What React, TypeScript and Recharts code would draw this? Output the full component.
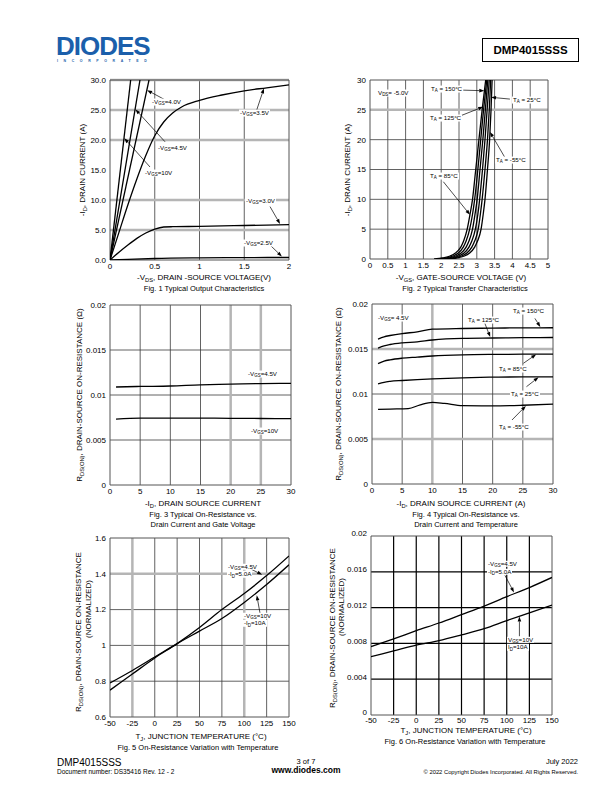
import React from 'react';
import { LineChart, Line, XAxis, YAxis, CartesianGrid, ReferenceLine } from 'recharts';

type Pt = [number, number];

// Fig. 1 typical output characteristics: [-VDS (V), -ID (A)]
const fig1Vgs10: Pt[] = [[0, 0], [0.231, 30]];
const fig1Vgs45: Pt[] = [[0, 0], [0.335, 30]];
const fig1Vgs40: Pt[] = [[0, 0], [0.436, 30]];
const fig1Vgs35: Pt[] = [[0, 0], [0.1, 4.6], [0.2, 9.2], [0.3, 13.5], [0.4, 17.4], [0.5, 20.7], [0.6, 23.0], [0.7, 24.5], [0.8, 25.5], [1.0, 26.6], [1.25, 27.5], [1.5, 28.2], [1.75, 28.7], [2.0, 29.2]];
const fig1Vgs30: Pt[] = [[0, 0], [0.1, 1.3], [0.2, 2.5], [0.3, 3.6], [0.4, 4.5], [0.5, 5.15], [0.6, 5.5], [0.7, 5.55], [1.0, 5.6], [1.5, 5.75], [2.0, 5.9]];
const fig1Vgs25: Pt[] = [[0, 0], [0.2, 0.12], [0.5, 0.25], [1.0, 0.35], [1.5, 0.4], [2.0, 0.42]];

// Fig. 2 transfer characteristics: [-VGS (V), -ID (A)], hot to cold
const fig2T150: Pt[] = [[1.8, 0], [2.05, 0.2], [2.25, 0.5], [2.4, 1], [2.55, 2], [2.63, 3], [2.73, 5], [2.81, 7.5], [2.88, 10], [2.97, 15], [3.06, 20], [3.15, 25], [3.25, 30]];
const fig2T125: Pt[] = [[1.9, 0], [2.14, 0.2], [2.33, 0.5], [2.48, 1], [2.62, 2], [2.7, 3], [2.8, 5], [2.88, 7.5], [2.94, 10], [3.03, 15], [3.11, 20], [3.19, 25], [3.28, 30]];
const fig2T85: Pt[] = [[2.0, 0], [2.22, 0.2], [2.41, 0.5], [2.56, 1], [2.7, 2], [2.78, 3], [2.88, 5], [2.95, 7.5], [3.01, 10], [3.09, 15], [3.17, 20], [3.24, 25], [3.31, 30]];
const fig2T50: Pt[] = [[2.1, 0], [2.3, 0.2], [2.49, 0.5], [2.64, 1], [2.78, 2], [2.86, 3], [2.96, 5], [3.03, 7.5], [3.08, 10], [3.16, 15], [3.23, 20], [3.29, 25], [3.35, 30]];
const fig2T25: Pt[] = [[2.2, 0], [2.38, 0.2], [2.57, 0.5], [2.72, 1], [2.86, 2], [2.94, 3], [3.04, 5], [3.1, 7.5], [3.15, 10], [3.23, 15], [3.3, 20], [3.35, 25], [3.39, 30]];
const fig2Tm55: Pt[] = [[2.3, 0], [2.46, 0.2], [2.65, 0.5], [2.8, 1], [2.94, 2], [3.02, 3], [3.12, 5], [3.18, 7.5], [3.23, 10], [3.3, 15], [3.36, 20], [3.4, 25], [3.43, 30]];

// Fig. 3 on-resistance vs drain current: [-ID (A), RDS(ON) (ohm)]
const fig3Vgs45: Pt[] = [[1, 0.01089], [5, 0.01095], [10, 0.011], [15, 0.01113], [20, 0.0112], [25, 0.01127], [30, 0.0113]];
const fig3Vgs10: Pt[] = [[1, 0.00733], [5, 0.00742], [10, 0.00744], [15, 0.00743], [20, 0.00741], [25, 0.00739], [30, 0.00737]];

// Fig. 4 on-resistance vs drain current and temperature
const fig4T150: Pt[] = [[1, 0.0161], [2, 0.01635], [3, 0.0165], [5, 0.01672], [7.5, 0.0169], [10, 0.0172], [15, 0.01728], [20, 0.01732], [25, 0.01735], [30, 0.01736]];
const fig4T125: Pt[] = [[1, 0.0151], [2, 0.01535], [3, 0.0155], [5, 0.01568], [7.5, 0.0158], [10, 0.016], [15, 0.01618], [20, 0.01622], [25, 0.01626], [30, 0.01628]];
const fig4T85: Pt[] = [[1, 0.01338], [2, 0.01365], [3, 0.0138], [5, 0.01398], [7.5, 0.0141], [10, 0.01422], [15, 0.01435], [20, 0.0144], [25, 0.01442], [30, 0.01442]];
const fig4T25: Pt[] = [[1, 0.01112], [2, 0.0113], [3, 0.0114], [5, 0.0115], [7.5, 0.0116], [10, 0.01168], [15, 0.0118], [20, 0.01187], [25, 0.0119], [30, 0.0119]];
const fig4Tm55: Pt[] = [[1, 0.00829], [3, 0.00833], [6, 0.00838], [8, 0.0088], [10, 0.00907], [12, 0.00895], [15, 0.0087], [20, 0.00868], [25, 0.00875], [30, 0.00888]];

// Fig. 5 normalized on-resistance vs junction temperature
const fig5Vgs45: Pt[] = [[-50, 0.75], [-25, 0.84], [0, 0.93], [25, 1.01], [50, 1.1], [75, 1.2], [100, 1.29], [125, 1.39], [150, 1.5]];
const fig5Vgs10: Pt[] = [[-50, 0.79], [-25, 0.86], [0, 0.935], [25, 1.01], [50, 1.08], [75, 1.15], [100, 1.24], [125, 1.34], [150, 1.45]];

// Fig. 6 on-resistance vs junction temperature
const fig6Vgs45: Pt[] = [[-50, 0.00765], [-25, 0.00851], [0, 0.00942], [25, 0.01028], [50, 0.01122], [75, 0.01217], [100, 0.01322], [125, 0.01424], [150, 0.01537]];
const fig6Vgs10: Pt[] = [[-50, 0.00652], [-25, 0.00716], [0, 0.0078], [25, 0.00832], [50, 0.00896], [75, 0.00964], [100, 0.01055], [125, 0.01141], [150, 0.01228]];

// tick values and labels
const fig1XTicks = [0, 0.5, 1, 1.5, 2];
const fig1XLabels = ['0', '0.5', '1', '1.5', '2'];
const fig1YTicks = [0, 5, 10, 15, 20, 25, 30];
const fig1YLabels = ['0.0', '5.0', '10.0', '15.0', '20.0', '25.0', '30.0'];
const fig2XTicks = [0, 0.5, 1, 1.5, 2, 2.5, 3, 3.5, 4, 4.5, 5];
const fig2XLabels = ['0', '0.5', '1', '1.5', '2', '2.5', '3', '3.5', '4', '4.5', '5'];
const fig2YTicks = [0, 5, 10, 15, 20, 25, 30];
const fig2YLabels = ['0', '5', '10', '15', '20', '25', '30'];
const idTicks = [0, 5, 10, 15, 20, 25, 30];
const idLabels = ['0', '5', '10', '15', '20', '25', '30'];
const rdsTicks = [0, 0.005, 0.01, 0.015, 0.02];
const rdsLabels = ['0', '0.005', '0.01', '0.015', '0.02'];
const tjTicks = [-50, -25, 0, 25, 50, 75, 100, 125, 150];
const tjLabels = ['-50', '-25', '0', '25', '50', '75', '100', '125', '150'];
const fig5YTicks = [0.6, 0.8, 1, 1.2, 1.4, 1.6];
const fig5YLabels = ['0.6', '0.8', '1', '1.2', '1.4', '1.6'];
const fig6YTicks = [0, 0.004, 0.008, 0.012, 0.016, 0.02];
const fig6YLabels = ['0', '0.004', '0.008', '0.012', '0.016', '0.02'];

const FONT = '"Liberation Sans", Arial, sans-serif';
const GRAY = '#b5b5b5';
const DARK = '#3a3a3a';

type Arrow = { from: Pt; to: Pt };

type PanelProps = {
  left: number;
  top: number;
  w: number;
  h: number;
  xDomain: [number, number];
  yDomain: [number, number];
  xTicks: number[];
  xLabels: string[];
  yTicks: number[];
  yLabels: string[];
  series: Pt[][];
  darkX?: number[];
  darkY?: number[];
  grayX?: number[];
  grayY?: number[];
  gridColor?: string;
  arrows?: Arrow[];
  xGap?: number;
  yDy?: number;
};

const toPts = (s: Pt[]) => s.map(([x, y]) => ({ x, y }));

const ArrowShape = (props: any) => {
  const { x1, y1, x2, y2 } = props;
  const a = Math.atan2(y2 - y1, x2 - x1);
  const L = 5;
  const W = 1.8;
  const bx = x2 - L * Math.cos(a);
  const by = y2 - L * Math.sin(a);
  const pts = `${x2},${y2} ${bx + W * Math.sin(a)},${by - W * Math.cos(a)} ${bx - W * Math.sin(a)},${by + W * Math.cos(a)}`;
  return (
    <g>
      <line x1={x1} y1={y1} x2={bx} y2={by} stroke="#000" strokeWidth={0.7} />
      <polygon points={pts} fill="#000" />
    </g>
  );
};

function Panel(p: PanelProps) {
  const gc = p.gridColor || DARK;
  const gap = p.xGap === undefined ? 1 : p.xGap;
  const xTick = { fontSize: 8, fill: '#000', fontFamily: FONT };
  const yTick = { fontSize: 8, fill: '#000', fontFamily: FONT, dy: p.yDy || 0 };
  return (
    <div style={{ position: 'absolute', left: p.left - 40, top: p.top - 10 }}>
      <LineChart width={p.w + 56} height={p.h + 30} margin={{ top: 10, right: 16, bottom: 0, left: 0 }}>
        {p.darkX && p.darkX.length > 0 && (
          <CartesianGrid horizontal={false} verticalValues={p.darkX} stroke={gc} strokeWidth={p.gridColor ? 1.2 : 0.8} />
        )}
        {p.darkY && p.darkY.length > 0 && (
          <CartesianGrid vertical={false} horizontalValues={p.darkY} stroke={gc} strokeWidth={p.gridColor ? 1.2 : 0.8} />
        )}
        {p.grayX && p.grayX.length > 0 && (
          <CartesianGrid horizontal={false} verticalValues={p.grayX} stroke={GRAY} strokeWidth={2.5} />
        )}
        {p.grayY && p.grayY.length > 0 && (
          <CartesianGrid vertical={false} horizontalValues={p.grayY} stroke={GRAY} strokeWidth={2.5} />
        )}
        <CartesianGrid verticalValues={p.xDomain} horizontalValues={p.yDomain} stroke="#555" strokeWidth={1} />
        <XAxis
          type="number"
          dataKey="x"
          domain={p.xDomain}
          ticks={p.xTicks}
          interval={0}
          tickFormatter={(v: number) => p.xLabels[p.xTicks.indexOf(v)]}
          axisLine={false}
          tickLine={false}
          tickSize={2}
          tickMargin={gap}
          tick={xTick}
          height={20}
          allowDataOverflow
        />
        <YAxis
          type="number"
          dataKey="y"
          domain={p.yDomain}
          ticks={p.yTicks}
          interval={0}
          tickFormatter={(v: number) => p.yLabels[p.yTicks.indexOf(v)]}
          axisLine={false}
          tickLine={false}
          tickSize={2}
          tickMargin={2}
          tick={yTick}
          width={40}
          allowDataOverflow
        />
        {p.series.map((s, i) => (
          <Line
            key={i}
            data={toPts(s)}
            dataKey="y"
            type="monotone"
            stroke="#000"
            strokeWidth={1.3}
            dot={false}
            activeDot={false}
            isAnimationActive={false}
          />
        ))}
        {(p.arrows || []).map((a, i) => (
          <ReferenceLine
            key={'a' + i}
            segment={[{ x: a.from[0], y: a.from[1] }, { x: a.to[0], y: a.to[1] }]}
            shape={ArrowShape}
            ifOverflow="visible"
          />
        ))}
      </LineChart>
    </div>
  );
}

const Sub = ({ children }: { children: React.ReactNode }) => (
  <span style={{ fontSize: '0.72em', position: 'relative', top: '0.3em' }}>{children}</span>
);

type TProps = {
  x: number;
  y: number;
  size?: number;
  anchor?: 'start' | 'middle' | 'end';
  bold?: boolean;
  bg?: boolean;
  color?: string;
  spacing?: number;
  lh?: number;
  children: React.ReactNode;
};

const T = ({ x, y, size = 7, anchor = 'start', bold, bg, color, spacing, lh, children }: TProps) => {
  const tx = anchor === 'middle' ? '-50%' : anchor === 'end' ? '-100%' : '0';
  return (
    <div
      style={{
        position: 'absolute',
        left: x,
        top: y,
        transform: `translate(${tx},-50%)`,
        fontSize: size,
        fontWeight: bold ? 'bold' : 'normal',
        whiteSpace: 'nowrap',
        lineHeight: lh || 1.1,
        background: bg ? '#fff' : undefined,
        padding: bg ? '0 1px' : 0,
        color: color || '#000',
        letterSpacing: spacing,
      }}
    >
      {children}
    </div>
  );
};

const VT = ({ x, y, size = 8, children }: { x: number; y: number; size?: number; children: React.ReactNode }) => (
  <div
    style={{
      position: 'absolute',
      left: x,
      top: y,
      transform: 'translate(-50%,-50%) rotate(-90deg)',
      fontSize: size,
      whiteSpace: 'nowrap',
      lineHeight: 1,
    }}
  >
    {children}
  </div>
);

const L = 6.2; // small annotation size

export default function App() {
  return (
    <div style={{ position: 'absolute', left: 0, top: 0, width: 612, height: 792, background: '#fff', fontFamily: FONT, color: '#000' }}>
      {/* header */}
      <T x={56} y={45.5} size={26} bold color="#1b5fab" spacing={-1} lh={0.8}>DIODES</T>
      <T x={57} y={61.5} size={3.5} bold color="#1b5fab" spacing={5.6} lh={1}>INCORPORATED</T>
      <div
        style={{
          position: 'absolute',
          left: 482,
          top: 38,
          width: 95,
          height: 22,
          border: '1px solid #000',
          display: 'flex',
          alignItems: 'center',
          justifyContent: 'center',
          fontSize: 11.5,
          fontWeight: 'bold',
        }}
      >
        DMP4015SSS
      </div>

      {/* Fig. 1 */}
      <Panel
        left={110} top={80} w={179} h={180}
        xDomain={[0, 2]} yDomain={[0, 30]}
        xTicks={fig1XTicks} xLabels={fig1XLabels} yTicks={fig1YTicks} yLabels={fig1YLabels}
        series={[fig1Vgs10, fig1Vgs45, fig1Vgs40, fig1Vgs35, fig1Vgs30, fig1Vgs25]}
        darkX={[0.5, 1, 1.5]} grayY={[5, 10, 20, 25, 30]}
        arrows={[
          { from: [0.615, 26.7], to: [0.415, 28.3] },
          { from: [0.615, 19.7], to: [0.285, 25.1] },
          { from: [0.447, 15.5], to: [0.16, 20.3] },
          { from: [1.639, 25.0], to: [1.72, 28.6] },
          { from: [1.788, 8.9], to: [1.9, 6.0] },
          { from: [1.788, 2.5], to: [1.92, 0.6] },
        ]}
      />
      <T x={151} y={102} size={L} bg>-V<Sub>GS</Sub>=4.0V</T>
      <T x={239} y={112.7} size={L} bg>-V<Sub>GS</Sub>=3.5V</T>
      <T x={157} y={147.7} size={L} bg>-V<Sub>GS</Sub>=4.5V</T>
      <T x={144} y={172.7} size={L} bg>-V<Sub>GS</Sub>=10V</T>
      <T x={245} y={201} size={L} bg>-V<Sub>GS</Sub>=3.0V</T>
      <T x={243} y={242.7} size={L} bg>-V<Sub>GS</Sub>=2.5V</T>
      <VT x={83} y={170}>-I<Sub>D</Sub>, DRAIN CURRENT (A)</VT>
      <T x={204} y={278} size={8} anchor="middle">-V<Sub>DS</Sub>, DRAIN -SOURCE VOLTAGE(V)</T>
      <T x={204} y={289} size={7.5} anchor="middle">Fig. 1 Typical Output Characteristics</T>

      {/* Fig. 2 */}
      <Panel
        left={370} top={80} w={178} h={179}
        xDomain={[0, 5]} yDomain={[0, 30]}
        xTicks={fig2XTicks} xLabels={fig2XLabels} yTicks={fig2YTicks} yLabels={fig2YLabels}
        series={[fig2T150, fig2T125, fig2T85, fig2T50, fig2T25, fig2Tm55]}
        darkX={[0.5, 1, 1.5, 2, 2.5, 3, 3.5, 4, 4.5]} darkY={[5, 10, 15, 20]} grayY={[25]}
        arrows={[
          { from: [2.62, 28.3], to: [3.21, 28.2] },
          { from: [3.93, 26.8], to: [3.4, 27.1] },
          { from: [2.48, 23.85], to: [3.18, 25.5] },
          { from: [3.79, 17.0], to: [3.37, 21.3] },
          { from: [2.06, 12.95], to: [2.81, 7.4] },
        ]}
      />
      <T x={377} y={93} size={L} bg>V<Sub>DS</Sub>= -5.0V</T>
      <T x={430} y={89} size={L} bg>T<Sub>A</Sub> = 150°C</T>
      <T x={512} y={100} size={L} bg>T<Sub>A</Sub> = 25°C</T>
      <T x={429} y={117.7} size={L} bg>T<Sub>A</Sub> = 125°C</T>
      <T x={495} y={160} size={L} bg>T<Sub>A</Sub> = -55°C</T>
      <T x={429} y={176} size={L} bg>T<Sub>A</Sub> = 85°C</T>
      <VT x={348} y={170}>-I<Sub>D</Sub>, DRAIN CURRENT (A)</VT>
      <T x={461} y={278} size={8} anchor="middle">-V<Sub>GS</Sub>, GATE-SOURCE VOLTAGE (V)</T>
      <T x={465} y={289} size={7.5} anchor="middle">Fig. 2 Typical Transfer Characteristics</T>

      {/* Fig. 3 */}
      <Panel
        left={110} top={305} w={181} h={180}
        xDomain={[0, 30]} yDomain={[0, 0.02]}
        xTicks={idTicks} xLabels={idLabels} yTicks={rdsTicks} yLabels={rdsLabels}
        series={[fig3Vgs45, fig3Vgs10]}
        darkX={[5, 10, 15]} grayX={[20, 25]} darkY={[0.005, 0.01, 0.015]}
      />
      <T x={247} y={374} size={L} bg>-V<Sub>GS</Sub>=4.5V</T>
      <T x={250} y={431} size={L} bg>-V<Sub>GS</Sub>=10V</T>
      <VT x={80} y={395}>R<Sub>DS(ON)</Sub>, DRAIN-SOURCE ON-RESISTANCE (Ω)</VT>
      <T x={203} y={504} size={8} anchor="middle">-I<Sub>D</Sub>, DRAIN SOURCE CURRENT</T>
      <T x={203} y={515} size={7.5} anchor="middle">Fig. 3  Typical On-Resistance vs.</T>
      <T x={203} y={525} size={7.5} anchor="middle">Drain Current and Gate Voltage</T>

      {/* Fig. 4 */}
      <Panel
        left={372} top={304} w={181} h={180}
        xDomain={[0, 30]} yDomain={[0, 0.02]}
        xTicks={idTicks} xLabels={idLabels} yTicks={rdsTicks} yLabels={rdsLabels}
        series={[fig4T150, fig4T125, fig4T85, fig4T25, fig4Tm55]}
        darkX={[5, 15, 20, 25]} grayX={[10]} darkY={[0.01]} grayY={[0.005, 0.015]}
        arrows={[
          { from: [27.0, 0.0184], to: [27.9, 0.01745] },
          { from: [18.7, 0.01786], to: [19.6, 0.01632] },
          { from: [25.1, 0.01341], to: [27.2, 0.0144] },
          { from: [25.6, 0.01081], to: [27.6, 0.01185] },
          { from: [23.2, 0.00711], to: [25.5, 0.00868] },
        ]}
      />
      <T x={377} y={318} size={L} bg>-V<Sub>GS</Sub>= 4.5V</T>
      <T x={512} y={311} size={L} bg>T<Sub>A</Sub> = 150°C</T>
      <T x={467} y={320} size={L} bg>T<Sub>A</Sub> = 125°C</T>
      <T x={498} y={369} size={L} bg>T<Sub>A</Sub> = 85°C</T>
      <T x={510} y={394} size={L} bg>T<Sub>A</Sub> = 25°C</T>
      <T x={498} y={427} size={L} bg>T<Sub>A</Sub> = -55°C</T>
      <VT x={339} y={394}>R<Sub>DS(ON)</Sub>, DRAIN-SOURCE ON-RESISTANCE (Ω)</VT>
      <T x={461} y={504} size={8} anchor="middle">-I<Sub>D</Sub>, DRAIN SOURCE CURRENT (A)</T>
      <T x={466} y={515} size={7.5} anchor="middle">Fig. 4  Typical On-Resistance vs.</T>
      <T x={466} y={525} size={7.5} anchor="middle">Drain Current and Temperature</T>

      {/* Fig. 5 */}
      <Panel
        left={110} top={538} w={179} h={179}
        xDomain={[-50, 150]} yDomain={[0.6, 1.6]}
        xTicks={tjTicks} xLabels={tjLabels} yTicks={fig5YTicks} yLabels={fig5YLabels}
        series={[fig5Vgs45, fig5Vgs10]}
        darkX={[0, 25, 50, 75, 125]} grayX={[-25, 100]} darkY={[0.8, 1, 1.2]} grayY={[1.4]}
        arrows={[
          { from: [108, 1.425], to: [120, 1.395] },
          { from: [117.6, 1.18], to: [114, 1.28] },
        ]}
      />
      <T x={227} y={567} size={L} bg lh={1}>-V<Sub>GS</Sub>=4.5V</T>
      <T x={227} y={574.2} size={L} bg lh={1}>-I<Sub>D</Sub>=5.0A</T>
      <T x={243} y={616} size={L} bg lh={1}>-V<Sub>GS</Sub>=10V</T>
      <T x={243} y={623.2} size={L} bg lh={1}>-I<Sub>D</Sub>=10A</T>
      <VT x={79} y={632}>R<Sub>DS(ON)</Sub>, DRAIN-SOURCE ON-RESISTANCE</VT>
      <VT x={88.5} y={609}>(NORMALIZED)</VT>
      <T x={201} y={737} size={8} anchor="middle">T<Sub>J</Sub>, JUNCTION TEMPERATURE (°C)</T>
      <T x={198} y={748} size={7.5} anchor="middle">Fig. 5  On-Resistance Variation with Temperature</T>

      {/* Fig. 6 */}
      <Panel
        left={371} top={536} w={181} h={179}
        xDomain={[-50, 150]} yDomain={[0, 0.02]}
        xTicks={tjTicks} xLabels={tjLabels} yTicks={fig6YTicks} yLabels={fig6YLabels}
        series={[fig6Vgs45, fig6Vgs10]}
        darkX={[-25, 0, 25, 50, 75, 100, 125]} darkY={[0.004, 0.008, 0.012, 0.016]}
        gridColor="#000"
        xGap={0}
        yDy={-2.5}
        arrows={[
          { from: [98, 0.0156], to: [108, 0.0137] },
          { from: [114, 0.0088], to: [114, 0.0110] },
        ]}
      />
      <T x={487} y={564} size={L} bg lh={1}>-V<Sub>GS</Sub>=4.5V</T>
      <T x={487} y={571.5} size={L} bg lh={1}>-I<Sub>D</Sub>=5.0A</T>
      <T x={507} y={640} size={L} bg lh={1}>V<Sub>GS</Sub>=10V</T>
      <T x={507} y={647.2} size={L} bg lh={1}>I<Sub>D</Sub>=10A</T>
      <VT x={332.7} y={627.5}>R<Sub>DS(ON)</Sub>, DRAIN-SOURCE ON-RESISTANCE</VT>
      <VT x={341.7} y={606.5}>(NORMALIZED)</VT>
      <T x={466} y={731.3} size={8} anchor="middle">T<Sub>J</Sub>, JUNCTION TEMPERATURE (°C)</T>
      <T x={465} y={742.3} size={7.5} anchor="middle">Fig. 6  On-Resistance Variation with Temperature</T>

      {/* footer */}
      <T x={57} y={762} size={10}>DMP4015SSS</T>
      <T x={57} y={772} size={6.5}>Document number: DS35416 Rev. 12 - 2</T>
      <T x={306} y={761.5} size={7.5} anchor="middle">3 of 7</T>
      <T x={306} y={771} size={8.5} anchor="middle" bold>www.diodes.com</T>
      <T x={578} y={762} size={7.5} anchor="end">July 2022</T>
      <T x={578} y={771.5} size={5.8} anchor="end">© 2022 Copyright Diodes Incorporated. All Rights Reserved.</T>
    </div>
  );
}
